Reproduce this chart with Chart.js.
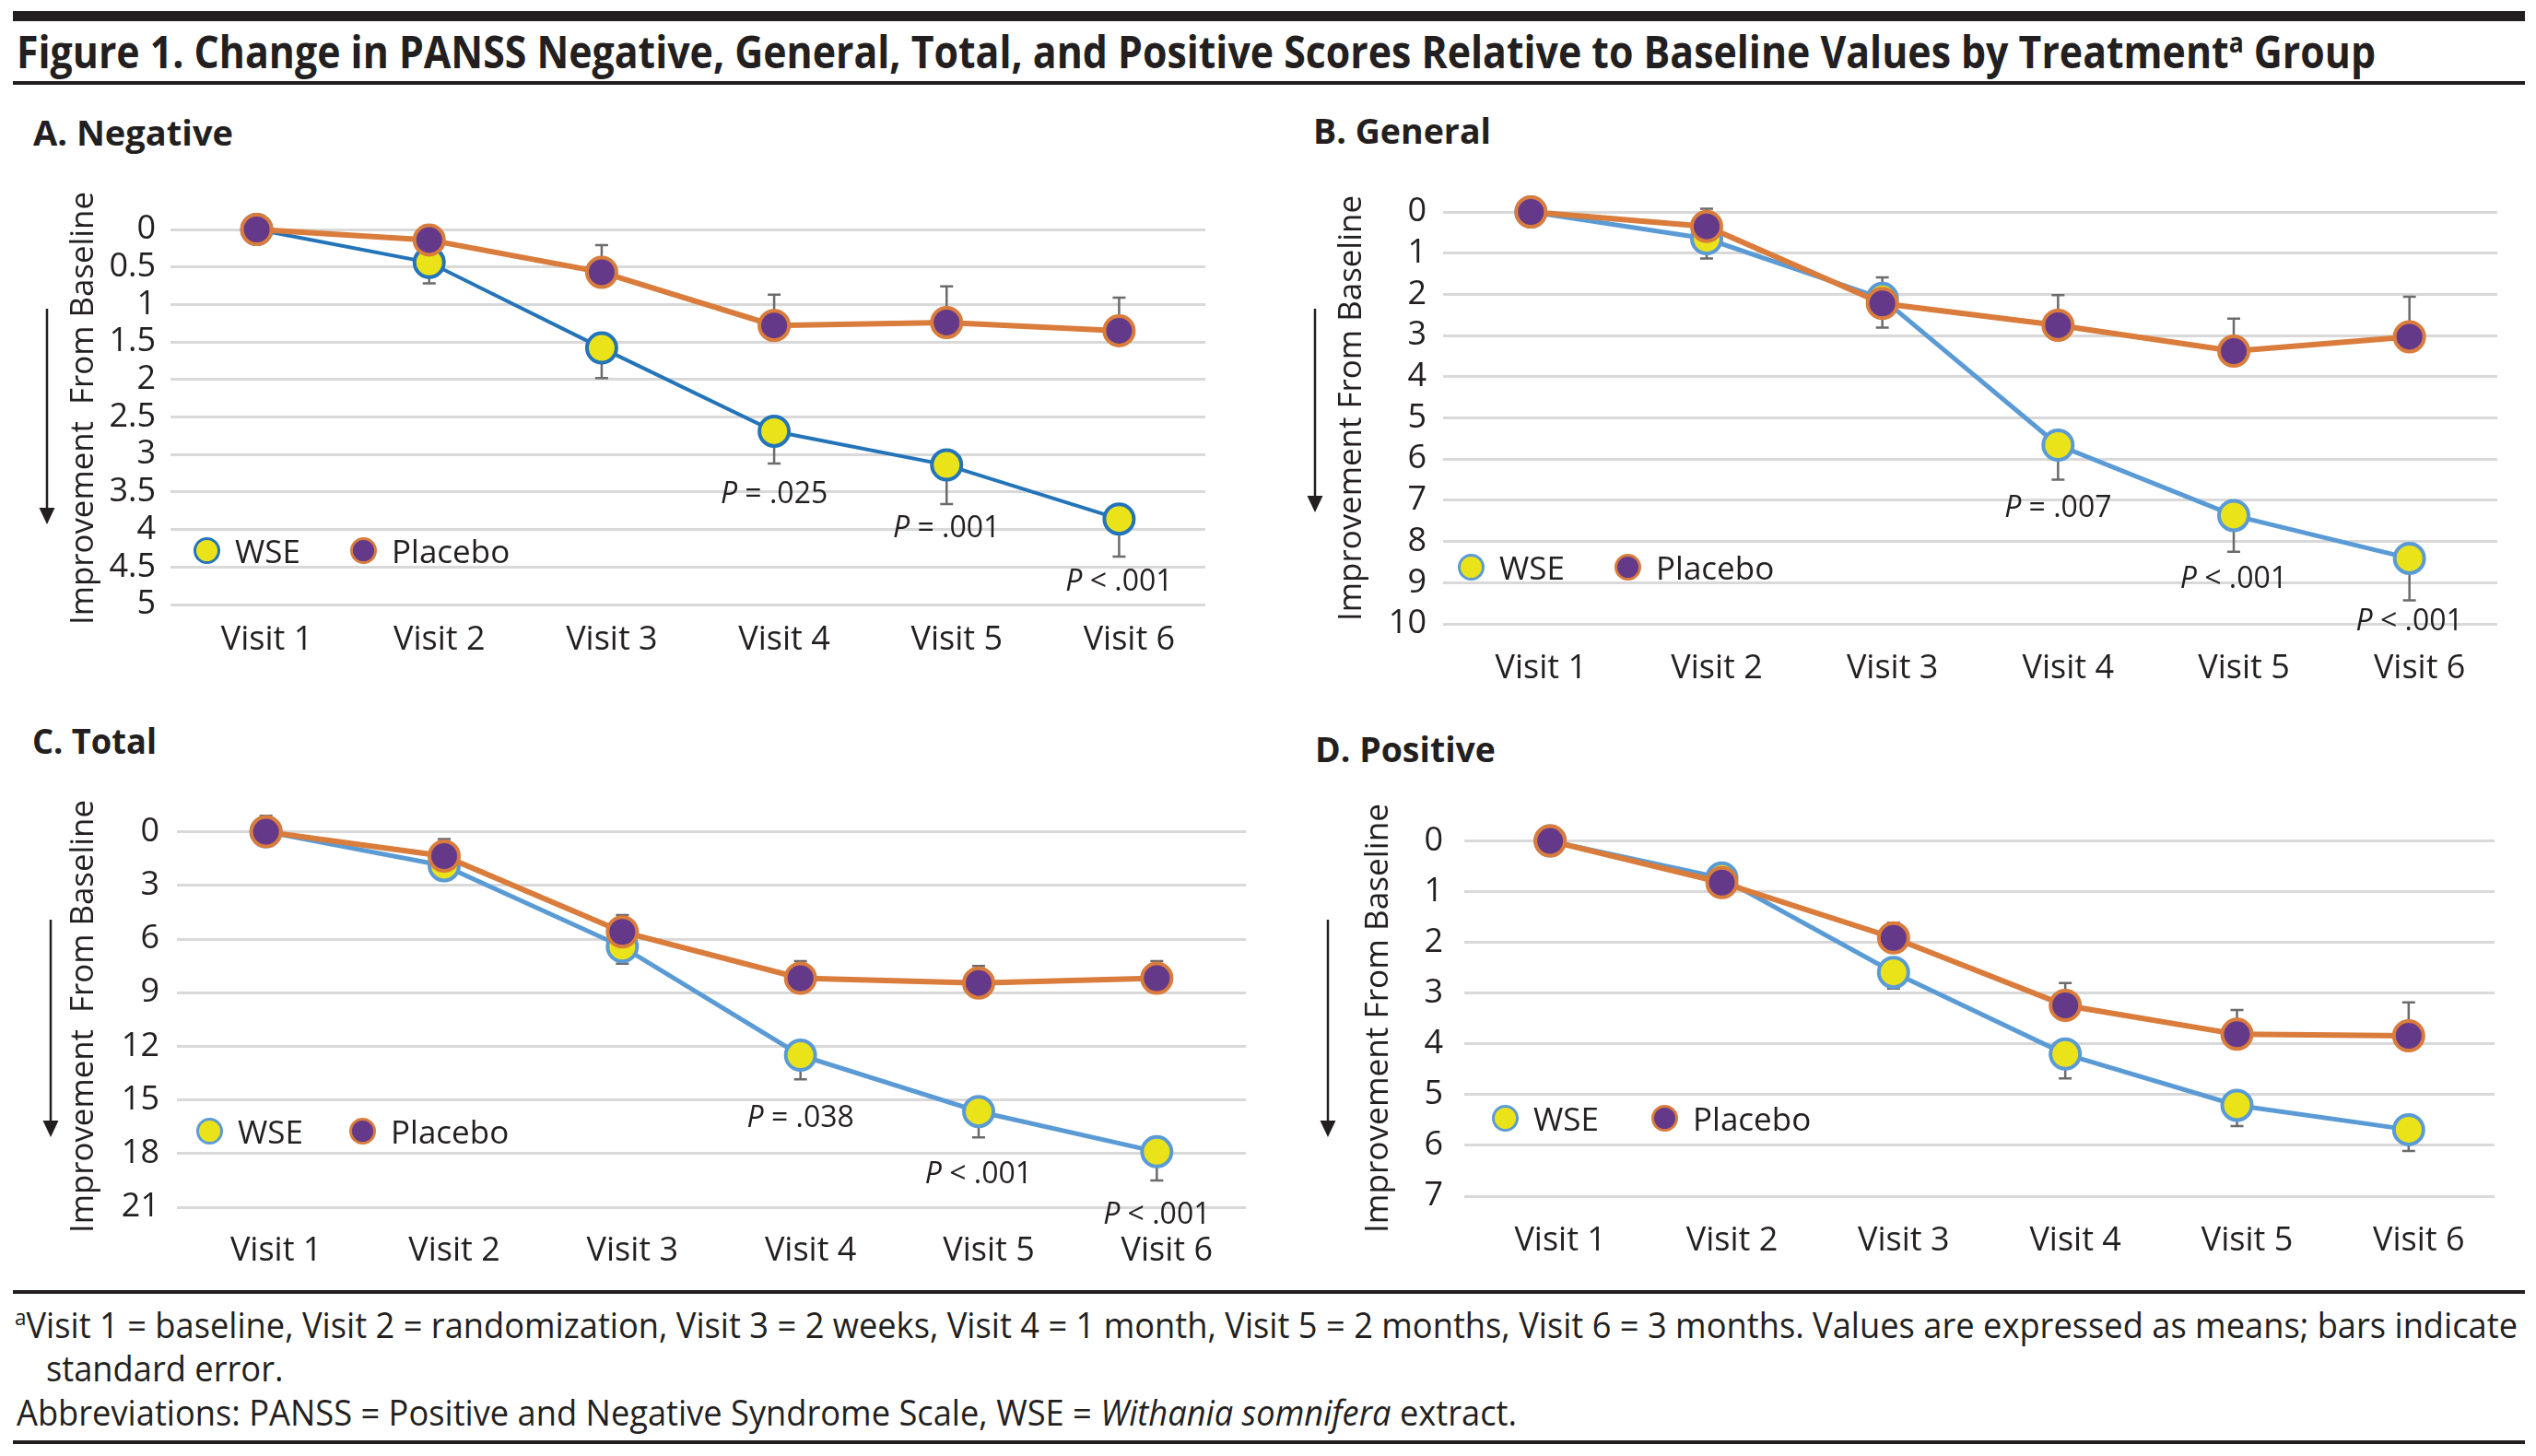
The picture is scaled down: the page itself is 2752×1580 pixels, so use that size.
<!DOCTYPE html>
<html>
<head>
<meta charset="utf-8">
<script src="https://cdn.jsdelivr.net/npm/chart.js@4.4.1/dist/chart.umd.min.js"></script>
<style>
  body { margin: 0; background: #fff; }
  #page { position: relative; width: 2752px; height: 1580px; overflow: hidden; font-family: 'Open Sans', sans-serif; color: #231f20; }
  .abs { position: absolute; white-space: pre; line-height: 1; transform-origin: 0 50%; }
  .rule { position: absolute; left: 14px; width: 2726px; background: #231f20; }
  canvas { position: absolute; }
  .ttl { font-weight: 700; }
  .lgm { position: absolute; width: 29px; height: 29px; box-sizing: border-box; border-radius: 50%; border: 3px solid; }
  .sup { font-size: 0.62em; vertical-align: 0.55em; line-height: 0; }
  svg { position: absolute; left: 0; top: 0; }
</style>
</head>
<body>
<div id="page">
  <div class="rule" style="top:12px;height:11px"></div>
  <div class="abs ttl" id="figTitle" style="left:18px;top:55px;font-size:49px">Figure 1. Change in PANSS Negative, General, Total, and Positive Scores Relative to Baseline Values by Treatment<span class="sup">a</span> Group</div>
  <div class="rule" style="top:88px;height:4px"></div>

  <div class="rule" style="top:1400px;height:4px"></div>
  <div class="abs foot" id="foot1" style="left:16px;top:1436px;font-size:39px"><span class="sup">a</span>Visit 1 = baseline, Visit 2 = randomization, Visit 3 = 2 weeks, Visit 4 = 1 month, Visit 5 = 2 months, Visit 6 = 3 months. Values are expressed as means; bars indicate</div>
  <div class="abs foot" id="foot2" style="left:50px;top:1483px;font-size:39px">standard error.</div>
  <div class="abs foot" id="foot3" style="left:18px;top:1531px;font-size:39px">Abbreviations: PANSS = Positive and Negative Syndrome Scale, WSE = <i>Withania somnifera</i> extract.</div>
  <div class="rule" style="top:1563px;height:4px"></div>

  <svg id="arrows" width="2752" height="1580"></svg>
</div>
<script>
const visits = ['Visit 1', 'Visit 2', 'Visit 3', 'Visit 4', 'Visit 5', 'Visit 6'];

// A. Negative
const negWse   = [0, 0.44, 1.58, 2.69, 3.14, 3.86];
const negWseSe = [0, 0.28, 0.40, 0.43, 0.52, 0.50];
const negPla   = [0, 0.14, 0.57, 1.28, 1.24, 1.35];
const negPlaSe = [0, 0.19, 0.36, 0.41, 0.48, 0.44];
const negP     = ['', '', '', 'P = .025', 'P = .001', 'P < .001'];

// B. General
const genWse   = [0, 0.65, 2.10, 5.66, 7.37, 8.41];
const genWseSe = [0, 0.48, 0.71, 0.84, 0.88, 1.02];
const genPla   = [0, 0.35, 2.22, 2.75, 3.38, 3.03];
const genPlaSe = [0, 0.43, 0.63, 0.73, 0.79, 0.97];
const genP     = ['', '', '', 'P = .007', 'P < .001', 'P < .001'];

// C. Total
const totWse   = [0, 1.9, 6.43, 12.5, 15.65, 17.9];
const totWseSe = [0, 0.6, 0.95, 1.35, 1.45, 1.6];
const totPla   = [0, 1.36, 5.6, 8.19, 8.46, 8.19];
const totPlaSe = [0.9, 0.95, 0.94, 0.95, 0.95, 0.95];
const totP     = ['', '', '', 'P = .038', 'P < .001', 'P < .001'];

// D. Positive
const posWse   = [0, 0.73, 2.59, 4.20, 5.21, 5.69];
const posWseSe = [0, 0.2, 0.32, 0.48, 0.41, 0.42];
const posPla   = [0, 0.82, 1.91, 3.24, 3.81, 3.84];
const posPlaSe = [0, 0.2, 0.30, 0.44, 0.48, 0.66];
const posP     = ['', '', '', '', '', ''];

const yellow = '#ebe31a', purple = '#65398a', orange = '#d97c3c';
const blueDark = '#2474b9', blueLight = '#5b9bd5';
const gridColor = '#d9d9d9', errColor = '#6b6b6b', txt = '#231f20';
const page = document.getElementById('page');

const errorBars = {
  id: 'errorBars',
  beforeDatasetsDraw(chart, args, opts) {
    const {ctx, scales: {x, y}} = chart;
    ctx.save();
    ctx.strokeStyle = opts.color;
    ctx.lineWidth = opts.width;
    chart.data.datasets.forEach(ds => {
      ds.errors.forEach((e, i) => {
        if (!e) return;
        const px = x.getPixelForValue(i);
        const y0 = y.getPixelForValue(ds.data[i]);
        const y1 = y.getPixelForValue(ds.data[i] + ds.errDir * e);
        ctx.beginPath();
        ctx.moveTo(px, y0); ctx.lineTo(px, y1);
        ctx.moveTo(px - opts.cap, y1); ctx.lineTo(px + opts.cap, y1);
        ctx.stroke();
      });
    });
    ctx.restore();
  }
};

const pValues = {
  id: 'pValues',
  afterDatasetsDraw(chart, args, opts) {
    const ctx = chart.ctx;
    const meta = chart.getDatasetMeta(0);
    const fItal = 'italic ' + opts.size + 'px "Open Sans"', fReg = opts.size + 'px "Open Sans"';
    ctx.save();
    ctx.fillStyle = txt;
    ctx.textBaseline = 'middle';
    ctx.textAlign = 'left';
    opts.labels.forEach((lab, i) => {
      if (!lab) return;
      const pt = meta.data[i];
      const p = lab.slice(0, 1), rest = lab.slice(1);
      ctx.font = fItal; const w1 = ctx.measureText(p).width;
      ctx.font = fReg; const w2 = ctx.measureText(rest).width;
      const x0 = pt.x - (w1 + w2) / 2, y = pt.y + opts.dy;
      ctx.font = fItal; ctx.fillText(p, x0, y);
      ctx.font = fReg; ctx.fillText(rest, x0 + w1, y);
    });
    ctx.restore();
  }
};

function addText(cls, text, left, top, size) {
  const d = document.createElement('div');
  d.className = 'abs ' + cls;
  d.textContent = text;
  d.style.left = left + 'px';
  d.style.top = top + 'px';
  d.style.fontSize = size + 'px';
  page.appendChild(d);
  return d;
}

function fitX(el, w) {
  const nat = el.getBoundingClientRect().width;
  const k = w / nat;
  el.style.transform = 'translateY(-50%) scaleX(' + k + ')';
  return k;
}

function makePanel(p) {
  const cl = p.canvasLeft, ct = p.area.top - 40;
  const W = p.area.right - cl + 30, H = p.area.bottom - ct + 80;
  const cv = document.createElement('canvas');
  cv.width = W; cv.height = H;
  cv.style.left = cl + 'px'; cv.style.top = ct + 'px';
  cv.style.width = W + 'px'; cv.style.height = H + 'px';
  page.appendChild(cv);

  const tickFont = {family: 'Open Sans', size: 36};
  new Chart(cv, {
    type: 'line',
    data: {
      labels: visits,
      datasets: [
        {label: 'WSE', data: p.wse, errors: p.wseSe, errDir: 1, borderColor: p.blue, borderWidth: p.wseLine,
         pointBackgroundColor: yellow, pointBorderColor: p.blue, pointRadius: 16, pointBorderWidth: 4,
         order: 2, clip: false},
        {label: 'Placebo', data: p.pla, errors: p.plaSe, errDir: -1, borderColor: orange, borderWidth: p.plaLine,
         pointBackgroundColor: purple, pointBorderColor: orange, pointRadius: 16, pointBorderWidth: 4,
         order: 1, clip: false}
      ]
    },
    options: {
      responsive: false,
      animation: false,
      events: [],
      layout: {padding: {left: 0, top: 40, right: 30, bottom: 0}},
      plugins: {
        legend: {display: false},
        tooltip: {enabled: false},
        errorBars: {color: errColor, width: 2.5, cap: 7},
        pValues: {labels: p.pLabels, dy: 69, size: 32}
      },
      scales: {
        x: {
          type: 'category', offset: true,
          grid: {display: false}, border: {display: false},
          ticks: {color: txt, font: tickFont, padding: p.labelY - p.area.bottom - 27, labelOffset: 11, maxRotation: 0, autoSkip: false},
          afterFit(s) { s.height = 80; }
        },
        y: {
          reverse: true, min: 0, max: p.max,
          grid: {color: gridColor, lineWidth: 3, drawTicks: false},
          border: {display: false},
          ticks: {stepSize: p.step, autoSkip: false, color: txt, font: tickFont, padding: p.area.left - p.tickRight, callback: v => String(v)},
          afterFit(s) { s.width = p.area.left - cl; }
        }
      }
    },
    plugins: [errorBars, pValues]
  });

  // panel title
  const t = addText('ttl', p.title, p.titlePos[0], p.titlePos[1], 38);
  fitX(t, p.titleW);

  // y axis title, rotated
  const yt = addText('', p.yTitle, p.yTitlePos[0], p.yTitlePos[1], 34);
  const nat = yt.getBoundingClientRect().width;
  yt.style.transformOrigin = '50% 50%';
  yt.style.transform = 'translate(-50%,-50%) rotate(-90deg) scaleX(' + (p.yTitleLen / nat) + ')';

  // legend
  const items = [[p.legend[0], yellow, p.blue, 'WSE'], [p.legend[1], purple, orange, 'Placebo']];
  items.forEach(([cx, fill, stroke, label]) => {
    const m = document.createElement('div');
    m.className = 'lgm';
    m.style.left = (cx - 14.5) + 'px';
    m.style.top = (p.legend[2] - 14.5) + 'px';
    m.style.background = fill;
    m.style.borderColor = stroke;
    page.appendChild(m);
    const lt = addText('', label, cx + 31, p.legend[2], 35);
    lt.style.transform = 'translateY(-50%)';
  });

  // arrow beside y title
  const svg = document.getElementById('arrows');
  const [ax, ay1, ay2] = p.arrow;
  svg.insertAdjacentHTML('beforeend',
    '<line x1="' + ax + '" y1="' + ay1 + '" x2="' + ax + '" y2="' + (ay2 - 14) + '" stroke="' + txt + '" stroke-width="2.5"/>' +
    '<polygon points="' + (ax - 8.5) + ',' + (ay2 - 18) + ' ' + (ax + 8.5) + ',' + (ay2 - 18) + ' ' + ax + ',' + ay2 + '" fill="' + txt + '"/>');
}

makePanel({
  title: 'A. Negative', titlePos: [36, 143], titleW: 217,
  canvasLeft: 0, area: {left: 185, right: 1308, top: 249, bottom: 656},
  tickRight: 169, labelY: 692, max: 5, step: 0.5,
  wse: negWse, wseSe: negWseSe, pla: negPla, plaSe: negPlaSe, pLabels: negP,
  blue: blueDark, wseLine: 4, plaLine: 6,
  yTitle: 'Improvement  From Baseline', yTitlePos: [88, 443], yTitleLen: 470,
  legend: [224, 394, 597], arrow: [51, 335, 569]
});
makePanel({
  title: 'B. General', titlePos: [1425, 141], titleW: 193,
  canvasLeft: 1376, area: {left: 1566, right: 2710, top: 230, bottom: 677},
  tickRight: 1548, labelY: 723, max: 10, step: 1,
  wse: genWse, wseSe: genWseSe, pla: genPla, plaSe: genPlaSe, pLabels: genP,
  blue: blueLight, wseLine: 5, plaLine: 6,
  yTitle: 'Improvement From Baseline', yTitlePos: [1464, 443], yTitleLen: 462,
  legend: [1596, 1766, 615], arrow: [1427, 335, 556]
});
makePanel({
  title: 'C. Total', titlePos: [35, 803], titleW: 135,
  canvasLeft: 0, area: {left: 192, right: 1352, top: 902, bottom: 1310},
  tickRight: 173, labelY: 1355, max: 21, step: 3,
  wse: totWse, wseSe: totWseSe, pla: totPla, plaSe: totPlaSe, pLabels: totP,
  blue: blueLight, wseLine: 5, plaLine: 6,
  yTitle: 'Improvement  From Baseline', yTitlePos: [88, 1103], yTitleLen: 470,
  legend: [227, 393, 1227], arrow: [55, 998, 1234]
});
makePanel({
  title: 'D. Positive', titlePos: [1427, 812], titleW: 196,
  canvasLeft: 1376, area: {left: 1589, right: 2707, top: 908, bottom: 1298},
  tickRight: 1566, labelY: 1344, max: 7, step: 1,
  wse: posWse, wseSe: posWseSe, pla: posPla, plaSe: posPlaSe, pLabels: posP,
  blue: blueLight, wseLine: 5, plaLine: 6,
  yTitle: 'Improvement From Baseline', yTitlePos: [1493, 1105], yTitleLen: 466,
  legend: [1633, 1806, 1213], arrow: [1441, 998, 1234]
});

// header and footnote widths
fitX(document.getElementById('figTitle'), 2560);
const k = fitX(document.getElementById('foot1'), 2716);
['foot2', 'foot3'].forEach(id => {
  document.getElementById(id).style.transform = 'translateY(-50%) scaleX(' + k + ')';
});
</script>
</body>
</html>
